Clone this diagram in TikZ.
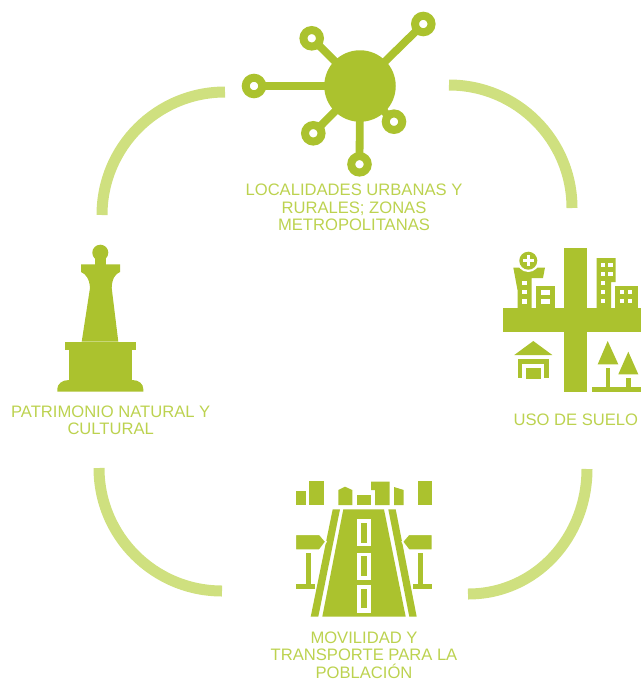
\documentclass[tikz,border=0pt]{standalone}
\usepackage{fontspec}
\setmainfont{Liberation Sans}

\definecolor{leaf}{HTML}{ABC22E}
\definecolor{pale}{HTML}{CFE07F}
\definecolor{caption}{HTML}{BCD24F}

\tikzset{
	label/.style={text=caption,align=center,inner sep=0pt,font=\fontsize{16.6}{17.4}\selectfont},
	band/.style={draw=pale,line width=11pt},
	hub/.style={circle,fill=leaf,inner sep=0pt,minimum size=71.5pt},
	ring/.style={circle,draw=leaf,fill=white,line width=8pt,inner sep=0pt,minimum size=16.5pt},
	spoke/.style={draw=leaf,line width=7.8pt,shorten >=-2pt,shorten <=-2pt},
	solid/.style={fill=leaf},
	hole/.style={fill=white},
	halo/.style={fill=leaf,draw=white,line width=1.6pt}
}

\begin{document}
\begin{tikzpicture}[x=1pt,y=-1pt]

	\useasboundingbox (0,0) rectangle (641,681);

	% Buer
	\draw [band] (225,92) .. controls (157,92) and (102,147) .. (102,215);
	\draw [band] (449,85) .. controls (517,85) and (572,140) .. (572,208);
	\draw [band] (99,468) .. controls (99,536) and (154,591) .. (222,591);
	\draw [band] (587,469) .. controls (587,537) and (536,594) .. (468,594);

	% Nettverk
	\node [hub] (centre) at (360,86) {};
	\node [ring] (west) at (254,86) {};
	\node [ring] (northwest) at (311.7,38.3) {};
	\node [ring] (northeast) at (423.3,24) {};
	\node [ring] (southwest) at (313.3,133.3) {};
	\node [ring] (southeast) at (394,121.7) {};
	\node [ring] (south) at (359.5,164.3) {};
	\draw [spoke] (centre) -- (west);
	\draw [spoke] (centre) -- (northwest);
	\draw [spoke] (centre) -- (northeast);
	\draw [spoke] (centre) -- (southwest);
	\draw [spoke] (centre) -- (southeast);
	\draw [spoke] (centre) -- (south);

	% Arealbruk: kors
	\fill [solid] (563.7,248.3) rectangle (587,391.7);
	\fill [solid] (503.3,308.3) rectangle (641,332);

	% Sykehus
	\fill [solid] (513.3,267.5) -- (545,267.5) -- (543,278) -- (531.7,278) -- (531.7,308.5) -- (517.5,308.5) -- (517.5,290) -- cycle;
	\fill [hole] (528.3,260.7) circle (11.3);
	\fill [solid] (528.3,260.7) circle (9);
	\fill [hole] (526.8,255.2) rectangle (529.8,266.2);
	\fill [hole] (522.8,259.2) rectangle (533.8,262.2);
	\fill [hole] (522,281) rectangle (526.7,285);
	\fill [hole] (522,290) rectangle (526.7,294.3);
	\fill [hole] (522,299.3) rectangle (526.7,303.7);
	\fill [solid] (535.7,285.7) rectangle (555,308.5);
	\fill [hole] (540.7,290) rectangle (550,295);
	\fill [hole] (540.7,299) rectangle (550,304);

	% Hoyhus
	\fill [solid] (596.5,258) -- (615.5,258) -- (615.5,282) -- (611,282) -- (611,308.5) -- (596.5,308.5) -- cycle;
	\fill [hole] (601,262.7) rectangle (605,266.7);
	\fill [hole] (608.3,262.7) rectangle (612.7,266.7);
	\fill [hole] (601,271.7) rectangle (605,275.7);
	\fill [hole] (608.3,271.7) rectangle (612.7,275.7);
	\fill [hole] (601,280.7) rectangle (605,285);
	\fill [hole] (601,290) rectangle (605,294);
	\fill [hole] (601,299.3) rectangle (605,303.3);
	\fill [solid] (615,285.7) rectangle (638,308.5);
	\fill [hole] (620,290) rectangle (624,294);
	\fill [hole] (628.3,290) rectangle (632.3,294);
	\fill [hole] (620,299.3) rectangle (624,303.3);
	\fill [hole] (628.3,299.3) rectangle (632.3,303.3);

	% Hus
	\fill [solid] (533.3,341) -- (552.3,355) -- (514.3,355) -- cycle;
	\fill [solid] (517.7,359) rectangle (549,378.3);
	\fill [hole] (522.3,364.3) rectangle (544.3,378.5);
	\fill [solid] (526,367.7) rectangle (540.7,379);

	% Traer
	\fill [solid] (607.7,341) -- (618.3,364.3) -- (597.7,364.3) -- cycle;
	\fill [solid] (628.3,351.7) -- (638.3,374.3) -- (618.3,374.3) -- cycle;
	\fill [solid] (605.7,368.3) rectangle (610.3,387);
	\fill [solid] (626.3,378.3) rectangle (631,387);
	\fill [solid] (591.7,387) rectangle (641,392);

	% Bygninger langs veien
	\fill [solid] (296,490.7) rectangle (306,505);
	\fill [solid] (309.3,481) rectangle (324.3,505);
	\fill [solid] (338.3,505) -- (338.3,490) -- (345,486.7) -- (352.3,490) -- (352.3,505) -- cycle;
	\fill [solid] (356.7,495) rectangle (371,505);
	\fill [solid] (371,481.5) -- (389.5,481.5) -- (389.5,505) -- (375,505) -- (375,490) -- (371,490) -- cycle;
	\fill [solid] (394,487) -- (403.7,490) -- (403.7,505) -- (394,505) -- cycle;
	\fill [solid] (417.7,481) rectangle (432.3,505);

	% Vei
	\fill [solid] (343.3,509.3) -- (384,509.3) -- (405.7,616.7) -- (322.3,616.7) -- cycle;
	\fill [solid] (332.7,509.3) -- (340,509.3) -- (318.3,616.7) -- (310.7,616.7) -- cycle;
	\fill [solid] (388.3,509.3) -- (395.7,509.3) -- (416.7,616.7) -- (409.3,616.7) -- cycle;

	% Midtstriper
	\fill [hole] (357.3,519) rectangle (370.7,546);
	\fill [hole] (357.3,552.7) rectangle (370.7,580);
	\fill [hole] (357.3,585) rectangle (370.7,612.7);
	\fill [solid] (361,523.3) rectangle (367,542.7);
	\fill [solid] (361,556) rectangle (367,576);
	\fill [solid] (361,588.7) rectangle (367,608.3);

	% Skilt
	\filldraw [halo] (295.2,534.2) -- (319.6,534.2) -- (326,541.7) -- (319.6,550.1) -- (295.2,550.1) -- cycle;
	\filldraw [halo] (432.5,534.2) -- (408.7,534.2) -- (402.3,541.7) -- (408.7,550.1) -- (432.5,550.1) -- cycle;
	\fill [solid] (305.7,553.3) rectangle (310.7,585);
	\fill [solid] (296,584.3) rectangle (315,589.3);
	\fill [solid] (418.3,553.3) rectangle (422.7,585);
	\fill [solid] (412.5,584.3) rectangle (431.7,589.3);

	% Monument
	\fill [solid] (100.3,252.7) circle (8);
	\fill [solid] (95,256) rectangle (106,266);
	\fill [solid] (81,264.3) -- (120,264.3) -- (120,272) .. controls (115,274) and (112,279) .. (111.7,288) -- (118.3,341.7) -- (81.7,341.7) -- (90,288) .. controls (89.5,279) and (86,274) .. (81,272) -- cycle;
	\fill [solid] (65,341.7) rectangle (136,350);
	\fill [solid] (69,350) rectangle (132.3,381);
	\fill [solid] (57.3,391.7) -- (57.3,389) .. controls (57.3,384) and (62,380) .. (69,380) -- (132.3,380) .. controls (139,380) and (143.3,384) .. (143.3,389) -- (143.3,391.7) -- cycle;

	% Tekst
	\node [label] (localidades) at (354,207.5) {LOCALIDADES URBANAS Y\\RURALES; ZONAS\\METROPOLITANAS};
	\node [label] (suelo) at (575.8,419.5) {USO DE SUELO};
	\node [label] (movilidad) at (364,655) {MOVILIDAD Y\\TRANSPORTE PARA LA\\POBLACIÓN};
	\node [label] (patrimonio) at (110.7,420) {PATRIMONIO NATURAL Y\\CULTURAL};

\end{tikzpicture}
\end{document}
